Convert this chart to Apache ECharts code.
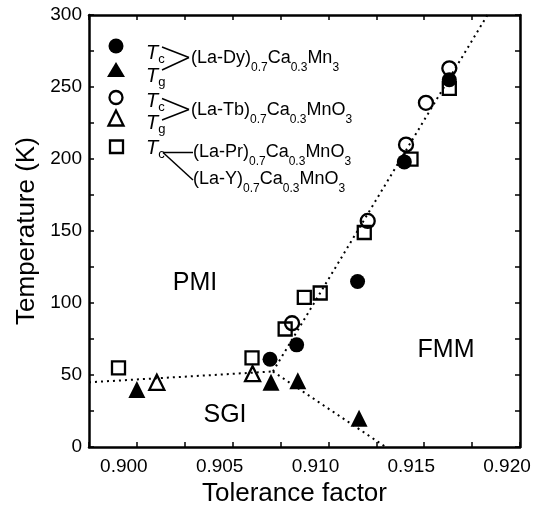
<!DOCTYPE html>
<html><head><meta charset="utf-8">
<script src="https://cdn.jsdelivr.net/npm/echarts@6/dist/echarts.min.js"></script>
<style>html,body{margin:0;padding:0;background:#fff}#c{width:544px;height:512px}</style>
</head><body><div id="c"></div>
<script>
// ---- data ----
const xTickLabels = ['0.900','0.905','0.910','0.915','0.920'];
const yTickLabels = ['0','50','100','150','200','250','300'];
// (La-Dy)0.7Ca0.3Mn3
const dyTc = [[0.90695,61],[0.90834,71],[0.91152,115],[0.91396,198],[0.91631,255]];
const dyTg = [[0.9000,40],[0.9070,45],[0.9084,46],[0.9116,20]];
// (La-Tb)0.7Ca0.3MnO3
const tbTc = [[0.9081,86],[0.91205,157],[0.91405,210],[0.91509,239],[0.91631,263]];
const tbTg = [[0.90104,45],[0.90604,51]];
// (La-Pr)/(La-Y)0.7Ca0.3MnO3
const prYTc = [[0.89904,55],[0.90601,62],[0.90774,82],[0.90874,104],[0.90957,107],[0.91187,149],[0.91431,200],[0.91631,249]];
// phase boundaries
const boundaryPMI_SGI = [[0.8975,45],[0.9071,52.5]];
const boundaryPMI_FMM = [[0.9071,52.5],[0.9183,300]];
const boundarySGI_FMM = [[0.9071,52.5],[0.9130,0]];
const regionNames = ['PMI','SGI','FMM'];

const FONT = '"Liberation Sans", Arial, Helvetica, sans-serif';
const chart = echarts.init(document.getElementById('c'));

const axisCommon = {
  axisLine: {show: true, onZero: false, lineStyle: {color: '#000', width: 2.5}},
  axisTick: {show: true, inside: true, length: 5, lineStyle: {color: '#000', width: 1.5}},
  splitLine: {show: false}
};
const X_MIN = 0.8975, X_MAX = 0.920;

function isMajorX(v){ return Math.abs(v*200 - Math.round(v*200)) < 1e-6; }

const dotted = {color: '#000', width: 2, type: [2, 4], opacity: 1};
function lineSeries(name, data){
  return {type: 'line', name, data, symbol: 'none', lineStyle: dotted, z: 1, silent: true, animation: false};
}
function scatter(name, data, symbol, filled, size){
  return {type: 'scatter', name, data, symbol, symbolSize: size, z: 3, animation: false,
    itemStyle: filled ? {color: '#000', borderColor: '#000', borderWidth: 0, opacity: 1}
                      : {color: 'rgba(0,0,0,0)', borderColor: '#000', borderWidth: 2.3, opacity: 1}};
}

const rich = {
  n: {fontSize: 18, lineHeight: 18, verticalAlign: 'top', fontFamily: FONT, color: '#000'},
  s: {fontSize: 12, lineHeight: 12, verticalAlign: 'top', padding: [13,0,0,0], fontFamily: FONT, color: '#000'},
  t: {fontSize: 20, lineHeight: 20, verticalAlign: 'top', fontStyle: 'italic', fontFamily: FONT, color: '#000'},
  ts: {fontSize: 13, lineHeight: 13, verticalAlign: 'top', padding: [10,0,0,0], fontFamily: FONT, color: '#000'}
};
function comp(a, b){ return '{n|' + a + '}{s|0.7}{n|Ca}{s|0.3}{n|' + b + '}{s|3}'; }
function txt(x, y, str){
  return {type: 'text', x, y, style: {text: str, rich, verticalAlign: 'top', align: 'left', fill: '#000'}};
}
function seg(x1,y1,x2,y2){
  return {type: 'line', shape: {x1,y1,x2,y2}, style: {stroke: '#000', lineWidth: 1.5}};
}
function regionText(x, y, s){
  return {type: 'text', x, y, style: {text: s, font: '25px ' + FONT, fill: '#000', align: 'center', verticalAlign: 'middle'}};
}

const graphics = [
  // legend symbols
  {type: 'circle', shape: {cx: 116, cy: 46, r: 7.5}, style: {fill: '#000'}},
  {type: 'polygon', shape: {points: [[116,62],[107,77],[125,77]]}, style: {fill: '#000'}},
  {type: 'circle', shape: {cx: 116, cy: 97.5, r: 6.5}, style: {fill: 'none', stroke: '#000', lineWidth: 2.3}},
  {type: 'polygon', shape: {points: [[116,110.5],[108.5,125.5],[123.5,125.5]]}, style: {fill: 'none', stroke: '#000', lineWidth: 2.3}},
  {type: 'rect', shape: {x: 110, y: 140.5, width: 13, height: 12.5}, style: {fill: 'none', stroke: '#000', lineWidth: 2.3}},
  // T labels
  txt(146, 43, '{t|T}{ts|c}'),
  txt(146, 66, '{t|T}{ts|g}'),
  txt(146, 91, '{t|T}{ts|c}'),
  txt(146, 113, '{t|T}{ts|g}'),
  txt(146, 138, '{t|T}{ts|c}'),
  // bracket lines
  seg(162,47,189,57.5), seg(162,70,189,57.5),
  seg(162,98.5,189,109.5), seg(162,120,189,109.5),
  seg(163,152.5,193,152.5), seg(163,152.5,193,180),
  // compound names
  txt(191, 49, comp('(La-Dy)', 'Mn')),
  txt(191, 101, comp('(La-Tb)', 'MnO')),
  txt(193, 143, comp('(La-Pr)', 'MnO')),
  txt(193, 170, comp('(La-Y)', 'MnO')),
  // region labels
  regionText(195, 283, regionNames[0]),
  regionText(225, 415, regionNames[1]),
  regionText(446, 350, regionNames[2])
];

chart.setOption({
  animation: false,
  backgroundColor: '#fff',
  textStyle: {fontFamily: FONT, color: '#000'},
  grid: {left: 89, right: 24, top: 15, bottom: 64, containLabel: false},
  xAxis: [
    Object.assign({}, axisCommon, {
      type: 'value', position: 'bottom', min: X_MIN, max: X_MAX, interval: 0.0025,
      name: 'Tolerance factor', nameLocation: 'middle', nameGap: 30,
      nameTextStyle: {fontSize: 26, fontFamily: FONT, color: '#000', padding: [0, 20, 0, 0]},
      axisLabel: {show: true, interval: 0, margin: 10, fontSize: 19, fontFamily: FONT, color: '#000',
        padding: [0, 26, 0, 0],
        formatter: v => (isMajorX(v) && xTickLabels.includes(v.toFixed(3))) ? v.toFixed(3) : ''}
    }),
    Object.assign({}, axisCommon, {
      type: 'value', position: 'top', min: X_MIN, max: X_MAX, interval: 0.0025,
      axisLabel: {show: false}
    })
  ],
  yAxis: [
    Object.assign({}, axisCommon, {
      type: 'value', position: 'left', min: 0, max: 300, interval: 25,
      name: 'Temperature (K)', nameLocation: 'middle', nameGap: 30,
      nameTextStyle: {fontSize: 26, fontFamily: FONT, color: '#000'},
      axisLabel: {show: true, interval: 0, margin: 7, fontSize: 19, fontFamily: FONT, color: '#000',
        formatter: v => yTickLabels.includes(String(v)) ? String(v) : ''}
    }),
    Object.assign({}, axisCommon, {
      type: 'value', position: 'right', min: 0, max: 300, interval: 25,
      axisLabel: {show: false}
    })
  ],
  series: [
    lineSeries('PMI-SGI', boundaryPMI_SGI),
    lineSeries('PMI-FMM', boundaryPMI_FMM),
    lineSeries('SGI-FMM', boundarySGI_FMM),
    scatter('(La-Pr/Y) Tc', prYTc, 'rect', false, 13),
    scatter('(La-Tb) Tg', tbTg, 'triangle', false, 15),
    scatter('(La-Dy) Tg', dyTg, 'triangle', true, 17),
    scatter('(La-Dy) Tc', dyTc, 'circle', true, 15),
    scatter('(La-Tb) Tc', tbTc, 'circle', false, 14)
  ],
  graphic: graphics
});
</script>
</body></html>
